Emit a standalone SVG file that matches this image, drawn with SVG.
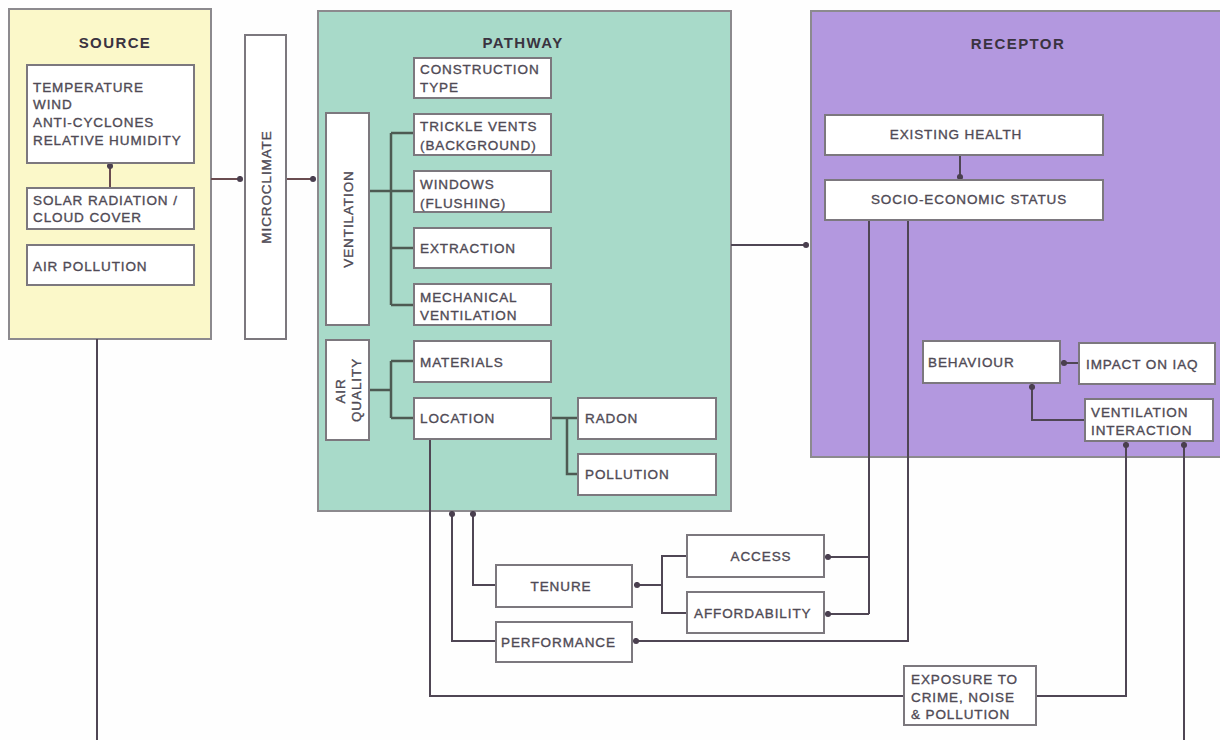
<svg xmlns="http://www.w3.org/2000/svg" width="1220" height="740" viewBox="0 0 1220 740">
  <defs>
    <marker id="dot" viewBox="0 0 8 8" refX="4" refY="4" markerWidth="7" markerHeight="7" markerUnits="userSpaceOnUse">
      <circle cx="4" cy="4" r="3.5" fill="#4a3f4f"/>
    </marker>
    <style>
      .panel { stroke: #8c8a8e; stroke-width: 2; }
      .box { fill: #ffffff; stroke: #7c787e; stroke-width: 2; }
      .lbl { font-family: "Liberation Sans", Arial, sans-serif; font-size: 13.5px; letter-spacing: 0.9px; fill: #4f4a55; stroke: #4f4a55; stroke-width: 0.35px; }
      .mid { text-anchor: middle; }
      .title { font-family: "Liberation Sans", Arial, sans-serif; font-size: 15px; font-weight: bold; letter-spacing: 1.4px; fill: #3a3340; text-anchor: middle; }
      .wire { fill: none; stroke: #4f4654; stroke-width: 2; }
      .warm { stroke: #6a4c50; }
      .tree { fill: none; stroke: #4d5a52; stroke-width: 2.5; }
      .arrow { marker-end: url(#dot); }
    </style>
  </defs>

  <rect width="1220" height="740" fill="#fefefe"/>

  <!-- main panels -->
  <g id="source-panel">
    <rect class="panel" x="9" y="9" width="202" height="330" fill="#fbf8c9"/>
    <text class="title" x="115" y="48">SOURCE</text>
  </g>
  <g id="pathway-panel">
    <rect class="panel" x="318" y="11" width="413" height="500" fill="#a8dac9"/>
    <text class="title" x="523" y="48">PATHWAY</text>
  </g>
  <g id="receptor-panel">
    <rect class="panel" x="811" y="11" width="420" height="446" fill="#b398df"/>
    <text class="title" x="1018" y="49">RECEPTOR</text>
  </g>

  <!-- connectors -->
  <g id="connectors">
    <!-- source / microclimate / pathway chain -->
    <line class="wire warm arrow" x1="110" y1="188" x2="110" y2="166"/>
    <line class="wire warm arrow" x1="211" y1="179" x2="240" y2="179"/>
    <line class="wire warm arrow" x1="286" y1="179" x2="313" y2="179"/>
    <line class="wire" x1="97" y1="339" x2="97" y2="740"/>

    <!-- ventilation tree -->
    <path class="tree" d="M369 191 H391 M391 133 V305 M391 133 H414 M391 191 H414 M391 248 H414 M391 305 H414"/>
    <!-- air quality tree -->
    <path class="tree" d="M369 390 H391 M391 361 V418 M391 361 H414 M391 418 H414"/>
    <!-- location tree -->
    <path class="tree" d="M551 418 H567 M567 418 V474 H578 M567 418 H578"/>

    <!-- pathway to receptor -->
    <line class="wire arrow" x1="731" y1="245" x2="806" y2="245"/>

    <!-- receptor internals -->
    <line class="wire arrow" x1="960" y1="155" x2="960" y2="177"/>
    <line class="wire arrow" x1="1079" y1="363" x2="1064" y2="363"/>
    <path class="wire arrow" d="M1085 420 H1032 V387"/>

    <!-- socio-economic status to access / affordability / performance -->
    <path class="wire" d="M869 220 V614"/>
    <line class="wire arrow" x1="869" y1="557" x2="828" y2="557"/>
    <line class="wire arrow" x1="869" y1="614" x2="828" y2="614"/>
    <path class="wire arrow" d="M908 220 V641 H636"/>

    <!-- access / affordability to tenure -->
    <path class="wire" d="M687 556 H662 V613 H687"/>
    <line class="wire arrow" x1="662" y1="585" x2="637" y2="585"/>

    <!-- tenure and performance back to pathway -->
    <path class="wire arrow" d="M496 585 H473 V514"/>
    <path class="wire arrow" d="M496 641 H452 V514"/>

    <!-- location to exposure to ventilation interaction -->
    <path class="wire" d="M430 439 V696 H904"/>
    <path class="wire arrow" d="M1036 696 H1126 V445"/>
    <line class="wire arrow" x1="1184" y1="740" x2="1184" y2="445"/>
  </g>

  <!-- source nodes -->
  <g id="climate-factors">
    <rect class="box" x="27" y="65" width="167" height="98"/>
    <text class="lbl" x="33" y="92">TEMPERATURE</text>
    <text class="lbl" x="33" y="109">WIND</text>
    <text class="lbl" x="33" y="127">ANTI-CYCLONES</text>
    <text class="lbl" x="33" y="145">RELATIVE HUMIDITY</text>
  </g>
  <g id="solar-radiation">
    <rect class="box" x="27" y="188" width="167" height="41"/>
    <text class="lbl" x="33" y="205">SOLAR RADIATION /</text>
    <text class="lbl" x="33" y="222">CLOUD COVER</text>
  </g>
  <g id="air-pollution">
    <rect class="box" x="27" y="245" width="167" height="40"/>
    <text class="lbl" x="33" y="271">AIR POLLUTION</text>
  </g>

  <g id="microclimate">
    <rect class="box" x="245" y="35" width="41" height="304"/>
    <text class="lbl mid" transform="translate(271 187) rotate(-90)">MICROCLIMATE</text>
  </g>

  <!-- pathway nodes -->
  <g id="construction-type">
    <rect class="box" x="414" y="58" width="137" height="40"/>
    <text class="lbl" x="420" y="74">CONSTRUCTION</text>
    <text class="lbl" x="420" y="92">TYPE</text>
  </g>
  <g id="ventilation">
    <rect class="box" x="326" y="113" width="43" height="212"/>
    <text class="lbl mid" transform="translate(353 219) rotate(-90)">VENTILATION</text>
  </g>
  <g id="trickle-vents">
    <rect class="box" x="414" y="114" width="137" height="41"/>
    <text class="lbl" x="420" y="131">TRICKLE VENTS</text>
    <text class="lbl" x="420" y="150">(BACKGROUND)</text>
  </g>
  <g id="windows">
    <rect class="box" x="414" y="171" width="137" height="41"/>
    <text class="lbl" x="420" y="189">WINDOWS</text>
    <text class="lbl" x="420" y="208">(FLUSHING)</text>
  </g>
  <g id="extraction">
    <rect class="box" x="414" y="228" width="137" height="40"/>
    <text class="lbl" x="420" y="253">EXTRACTION</text>
  </g>
  <g id="mechanical-ventilation">
    <rect class="box" x="414" y="284" width="137" height="41"/>
    <text class="lbl" x="420" y="302">MECHANICAL</text>
    <text class="lbl" x="420" y="320">VENTILATION</text>
  </g>
  <g id="air-quality">
    <rect class="box" x="326" y="340" width="43" height="100"/>
    <text class="lbl mid" transform="translate(345 391) rotate(-90)">AIR</text>
    <text class="lbl mid" transform="translate(361 390) rotate(-90)">QUALITY</text>
  </g>
  <g id="materials">
    <rect class="box" x="414" y="341" width="137" height="41"/>
    <text class="lbl" x="420" y="367">MATERIALS</text>
  </g>
  <g id="location">
    <rect class="box" x="414" y="398" width="137" height="41"/>
    <text class="lbl" x="420" y="423">LOCATION</text>
  </g>
  <g id="radon">
    <rect class="box" x="578" y="398" width="138" height="41"/>
    <text class="lbl" x="585" y="423">RADON</text>
  </g>
  <g id="pollution">
    <rect class="box" x="578" y="454" width="138" height="41"/>
    <text class="lbl" x="585" y="479">POLLUTION</text>
  </g>

  <!-- receptor nodes -->
  <g id="existing-health">
    <rect class="box" x="825" y="115" width="278" height="40"/>
    <text class="lbl mid" x="956" y="139">EXISTING HEALTH</text>
  </g>
  <g id="socio-economic-status">
    <rect class="box" x="825" y="180" width="278" height="40"/>
    <text class="lbl mid" x="969" y="204">SOCIO-ECONOMIC STATUS</text>
  </g>
  <g id="behaviour">
    <rect class="box" x="923" y="341" width="137" height="42"/>
    <text class="lbl" x="928" y="367">BEHAVIOUR</text>
  </g>
  <g id="impact-on-iaq">
    <rect class="box" x="1079" y="343" width="136" height="41"/>
    <text class="lbl" x="1086" y="369">IMPACT ON IAQ</text>
  </g>
  <g id="ventilation-interaction">
    <rect class="box" x="1085" y="399" width="128" height="42"/>
    <text class="lbl" x="1091" y="417">VENTILATION</text>
    <text class="lbl" x="1091" y="435">INTERACTION</text>
  </g>

  <!-- socio-economic nodes below the panels -->
  <g id="access">
    <rect class="box" x="687" y="535" width="137" height="42"/>
    <text class="lbl mid" x="761" y="561">ACCESS</text>
  </g>
  <g id="affordability">
    <rect class="box" x="687" y="592" width="137" height="41"/>
    <text class="lbl" x="694" y="618">AFFORDABILITY</text>
  </g>
  <g id="tenure">
    <rect class="box" x="496" y="565" width="136" height="42"/>
    <text class="lbl mid" x="561" y="591">TENURE</text>
  </g>
  <g id="performance">
    <rect class="box" x="496" y="622" width="136" height="40"/>
    <text class="lbl" x="501" y="647">PERFORMANCE</text>
  </g>
  <g id="exposure">
    <rect class="box" x="904" y="666" width="132" height="59"/>
    <text class="lbl" x="911" y="684">EXPOSURE TO</text>
    <text class="lbl" x="911" y="702">CRIME, NOISE</text>
    <text class="lbl" x="911" y="719">&amp; POLLUTION</text>
  </g>
</svg>
